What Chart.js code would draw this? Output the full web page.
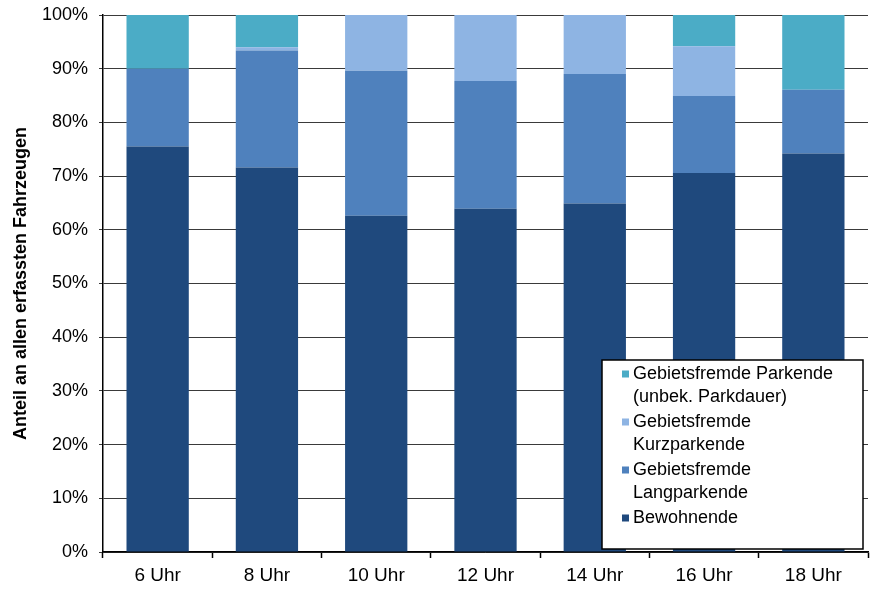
<!DOCTYPE html>
<html>
<head>
<meta charset="utf-8">
<script src="https://cdn.jsdelivr.net/npm/chart.js@4"></script>
<style>
    html, body { margin: 0; padding: 0; background: #fff; }
    #wrap { width: 870px; height: 590px; }
</style>
</head>
<body>
<div id="wrap"><canvas id="chartParken"></canvas></div>
<script>
const uhrzeiten = ['6 Uhr', '8 Uhr', '10 Uhr', '12 Uhr', '14 Uhr', '16 Uhr', '18 Uhr'];

const bewohnende     = [75.5, 71.6, 62.6, 63.9, 64.9, 70.6, 74.2];
const langparkende   = [14.5, 21.8, 27.0, 23.8, 24.1, 14.3, 11.9];
const kurzparkende   = [0.0, 0.6, 10.4, 12.3, 11.0, 9.3, 0.0];
const unbekParkdauer = [10.0, 6.0, 0.0, 0.0, 0.0, 5.8, 13.9];

const yTicks = [0, 10, 20, 30, 40, 50, 60, 70, 80, 90, 100];

const labelBew = ['Bewohnende'];
const labelLang = ['Gebietsfremde', 'Langparkende'];
const labelKurz = ['Gebietsfremde', 'Kurzparkende'];
const labelUnbek = ['Gebietsfremde Parkende', '(unbek. Parkdauer)'];

const FONT = '"Liberation Sans", Arial, sans-serif';

// Legende als Box unten rechts (mehrzeilige Einträge)
const boxLegend = {
    id: 'boxLegend',
    afterDraw(chart) {
        const ctx = chart.ctx;
        const x0 = 602, y0 = 360, w = 261, h = 189;
        ctx.save();
        ctx.fillStyle = '#fff';
        ctx.fillRect(x0, y0, w, h);
        ctx.strokeStyle = '#000';
        ctx.lineWidth = 1.5;
        ctx.strokeRect(x0, y0, w, h);

        ctx.font = '18px ' + FONT;
        ctx.textBaseline = 'middle';
        let y = 374;
        // oberster Eintrag = oberstes Segment
        const items = chart.data.datasets.slice().reverse();
        items.forEach(ds => {
            ctx.fillStyle = ds.backgroundColor;
            ctx.fillRect(622, y - 3.5, 7, 7);
            ctx.fillStyle = '#000';
            ds.legendLines.forEach((line, i) => {
                ctx.fillText(line, 633, y + i * 23);
            });
            y += ds.legendLines.length * 23 + 2;
        });
        ctx.restore();
    }
};

const ctx = document.getElementById('chartParken').getContext('2d');
new Chart(ctx, {
    type: 'bar',
    data: {
        labels: uhrzeiten,
        datasets: [
            { label: labelBew.join(' '), legendLines: labelBew, data: bewohnende, backgroundColor: '#1F497D' },
            { label: labelLang.join(' '), legendLines: labelLang, data: langparkende, backgroundColor: '#4F81BD' },
            { label: labelKurz.join(' '), legendLines: labelKurz, data: kurzparkende, backgroundColor: '#8EB4E3' },
            { label: labelUnbek.join(' '), legendLines: labelUnbek, data: unbekParkdauer, backgroundColor: '#4BACC6' }
        ]
    },
    options: {
        responsive: true, maintainAspectRatio: false,
        animation: false,
        layout: { padding: { top: 0, right: 2, left: 0, bottom: 0 } },
        datasets: { bar: { categoryPercentage: 1, barPercentage: 0.57 } },
        plugins: { legend: { display: false }, tooltip: { enabled: false } },
        scales: {
            x: {
                stacked: true,
                grid: { offset: true, drawOnChartArea: false, color: '#000', tickLength: 6, tickWidth: 1.5 },
                border: { color: '#000', width: 1.5 },
                ticks: { color: '#000', font: { family: FONT, size: 19 }, padding: 6, maxRotation: 0 },
                afterFit: (scale) => { scale.height = 38; }
            },
            y: {
                stacked: true,
                min: 0, max: 100,
                afterBuildTicks: (scale) => { scale.ticks = yTicks.map(v => ({ value: v })); },
                grid: { color: '#3a3a3a', lineWidth: 1, tickLength: 4 },
                border: { color: '#000', width: 1.5 },
                ticks: {
                    color: '#000', font: { family: FONT, size: 18 }, padding: 11,
                    callback: (v) => v + '%'
                },
                title: {
                    display: true, text: 'Anteil an allen erfassten Fahrzeugen',
                    color: '#000', font: { family: FONT, size: 18, weight: 'bold' },
                    padding: { top: 10, bottom: 0 }
                },
                afterFit: (scale) => { scale.width = 103; scale.paddingTop = 15; }
            }
        }
    },
    plugins: [boxLegend]
});
</script>
</body>
</html>
